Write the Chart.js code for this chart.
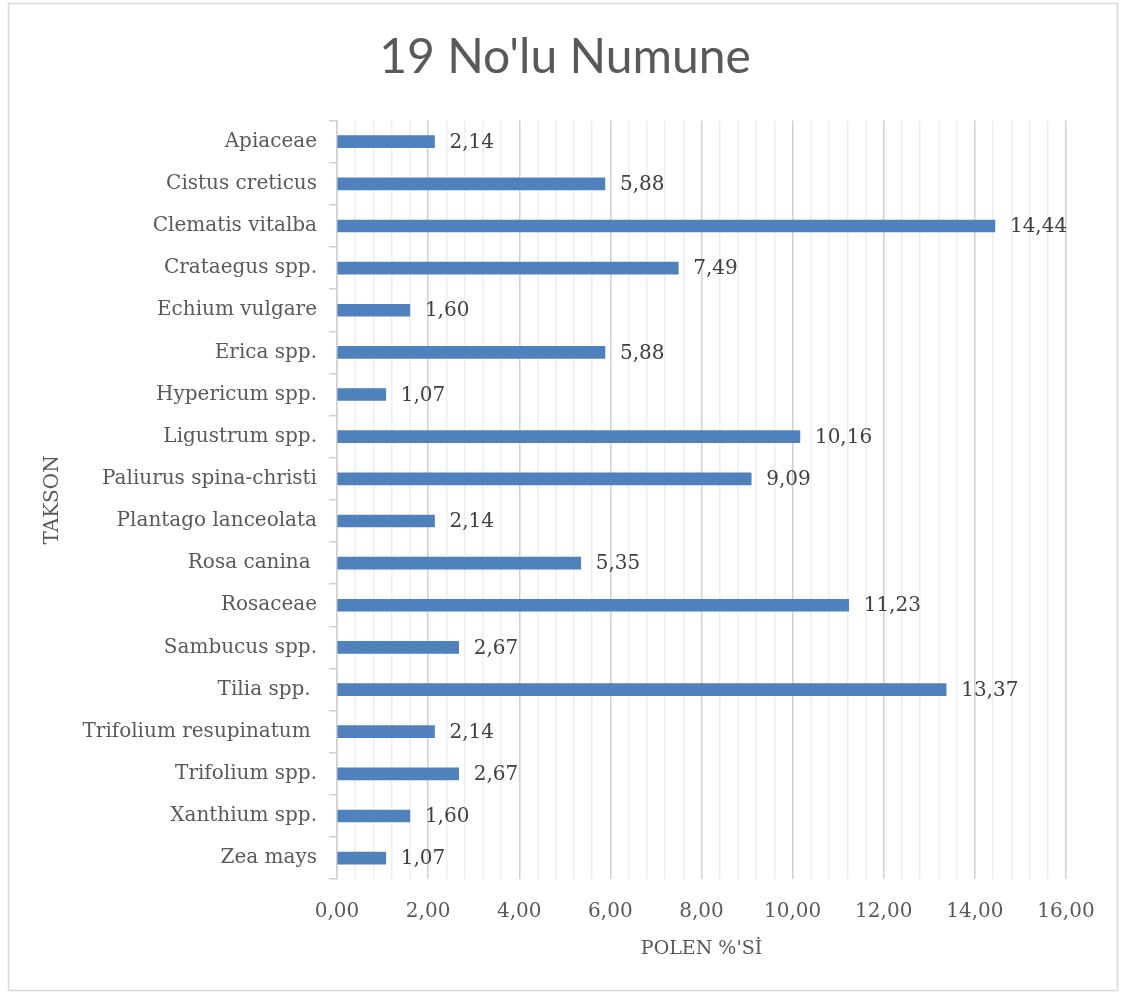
<!DOCTYPE html>
<html>
<head>
<meta charset="utf-8">
<script src="https://cdn.jsdelivr.net/npm/chart.js@4"></script>
<style>
  html, body { margin: 0; padding: 0; background: #fff; }
  #wrap { width: 1125px; height: 994px; }
</style>
</head>
<body>
<div id="wrap"><canvas id="bar-chart"></canvas></div>
<script>
// taxa, top to bottom
var taxa = ["Apiaceae", "Cistus creticus", "Clematis vitalba", "Crataegus spp.", "Echium vulgare",
  "Erica spp.", "Hypericum spp.", "Ligustrum spp.", "Paliurus spina-christi", "Plantago lanceolata",
  "Rosa canina ", "Rosaceae", "Sambucus spp.", "Tilia spp. ", "Trifolium resupinatum ",
  "Trifolium spp.", "Xanthium spp.", "Zea mays"];
// pollen percentages
var pollen = [2.14, 5.88, 14.44, 7.49, 1.60, 5.88, 1.07, 10.16, 9.09, 2.14,
  5.35, 11.23, 2.67, 13.37, 2.14, 2.67, 1.60, 1.07];

var serif = "'DejaVu Serif', 'Liberation Serif', serif";
var grey = "#595959";

function comma(v, d) {
  return v.toFixed(d).replace(".", ",");
}
function isMajor(v) {
  return Math.abs(v / 2 - Math.round(v / 2)) < 1e-6;
}

// light frame around the whole chart
var frame = {
  id: "frame",
  beforeDraw: function (chart) {
    var c = chart.ctx;
    c.save();
    c.fillStyle = "#fff";
    c.fillRect(0, 0, chart.width, chart.height);
    c.strokeStyle = "#d9d9d9";
    c.lineWidth = 1.5;
    c.strokeRect(8.5, 3.5, 1109, 987);
    c.restore();
  }
};

// value text to the right of each bar
var valueLabels = {
  id: "valueLabels",
  afterDatasetsDraw: function (chart) {
    var c = chart.ctx;
    var meta = chart.getDatasetMeta(0);
    c.save();
    c.font = "20px " + serif;
    c.fillStyle = "#404040";
    c.textBaseline = "middle";
    c.textAlign = "left";
    meta.data.forEach(function (bar, i) {
      c.fillText(comma(pollen[i], 2), bar.x + 15, bar.y + 1);
    });
    c.restore();
  }
};

var ctx = document.getElementById("bar-chart");
new Chart(ctx, {
  type: "bar",
  data: {
    labels: taxa,
    datasets: [{
      data: pollen,
      backgroundColor: "#4f81bd",
      barThickness: 12
    }]
  },
  options: {
    indexAxis: "y",
    responsive: true,
    maintainAspectRatio: false,
    animation: false,
    layout: { padding: { left: 64, right: 59, top: 17, bottom: 30 } },
    plugins: {
      legend: { display: false },
      tooltip: { enabled: false },
      title: {
        display: true,
        text: "19 No'lu Numune",
        color: grey,
        font: { family: "Lato, 'Open Sans', sans-serif", size: 48, weight: "normal" },
        padding: { top: 12, bottom: 34 }
      }
    },
    scales: {
      x: {
        min: 0,
        max: 16,
        ticks: {
          stepSize: 0.4,
          autoSkip: false,
          maxRotation: 0,
          color: grey,
          font: { family: serif, size: 20 },
          padding: 21,
          callback: function (v) { return isMajor(v) ? comma(v, 2) : ""; }
        },
        grid: {
          drawTicks: false,
          color: function (c) { return isMajor(c.tick.value) ? "#d0d0d0" : "#eeeeee"; },
          lineWidth: 1.5
        },
        border: { display: false },
        title: {
          display: true,
          text: "POLEN %'Sİ",
          color: grey,
          font: { family: serif, size: 19 },
          padding: { top: -8 }
        }
      },
      y: {
        afterFit: function (scale) { scale.width = 273; },
        ticks: {
          color: grey,
          font: { family: serif, size: 20 },
          padding: 12
        },
        grid: {
          drawOnChartArea: false,
          drawTicks: true,
          tickLength: 8,
          color: "#d0d0d0",
          lineWidth: 1.5
        },
        border: { display: true, color: "#d0d0d0", width: 1.5 },
        title: {
          display: true,
          text: "TAKSON",
          color: grey,
          font: { family: serif, size: 20 },
          padding: { top: -23, bottom: 12 }
        }
      }
    }
  },
  plugins: [frame, valueLabels]
});
</script>
</body>
</html>
